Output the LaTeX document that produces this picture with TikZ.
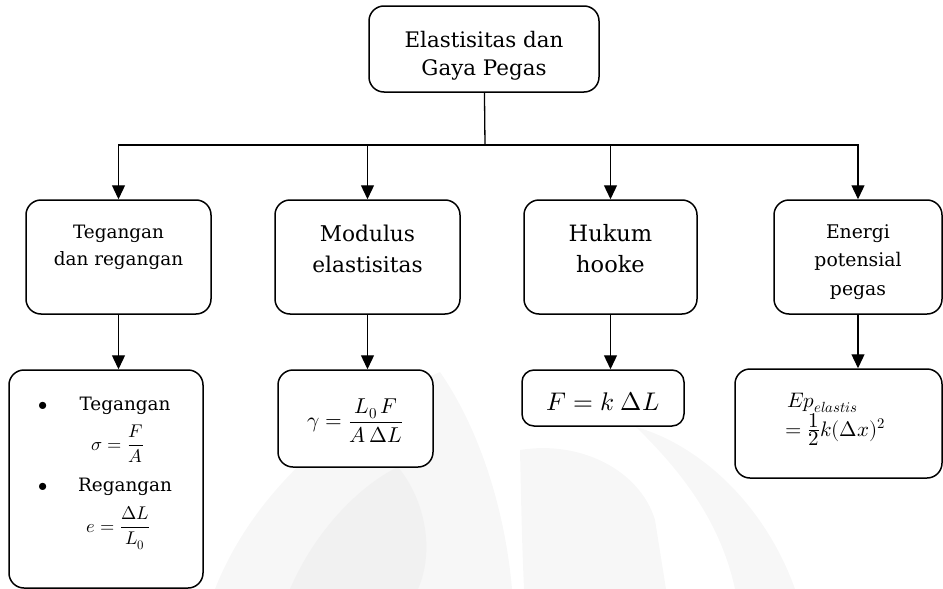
\documentclass[tikz,border=0pt]{standalone}
\usepackage{amsmath}
\usepackage{fontspec}
\usepackage{unicode-math}
\setmainfont{DejaVu Serif}
\setmathfont{Latin Modern Math}
\usetikzlibrary{arrows.meta}

\tikzset{
  box/.style={draw=black, line width=1.5pt, rounded corners=15pt, fill=white,
              rectangle, inner sep=0pt},
  lbl/.style={align=center, inner sep=0pt, anchor=north},
  item/.style={inner sep=0pt, anchor=base, font=\fontsize{18.4}{22}\selectfont},
  formula/.style={inner sep=0pt, anchor=base west, font=\fontsize{21}{24}\selectfont},
  link/.style={line width=1.3pt},
  arrowlink/.style={link, -{Triangle[width=13pt,length=14pt]}},
  wmark/.style={fill=gray!6, draw=none},
  wmarkdark/.style={fill=gray!11, draw=none}
}

\begin{document}
\begin{tikzpicture}[x=1pt, y=-1pt]
\useasboundingbox (0,0) rectangle (943,589);

% faint background emblem
\fill[wmark] (215,589) .. controls (250,500) and (330,420) .. (440,372)
  .. controls (480,430) and (505,510) .. (512,589) -- cycle;
\fill[wmarkdark] (290,589) .. controls (320,520) and (370,480) .. (398,467)
  .. controls (425,500) and (435,550) .. (418,589) -- cycle;
\fill[wmark] (520,450) .. controls (580,440) and (640,470) .. (655,520)
  -- (666,589) -- (524,589) .. controls (522,540) .. (520,450) -- cycle;
\fill[wmark] (636,427) .. controls (700,445) and (765,505) .. (795,589)
  -- (735,589) .. controls (720,520) and (680,470) .. (636,427) -- cycle;

% root
\node[box, minimum width=230pt, minimum height=86pt] (root) at (484,49) {};
\node[lbl, font=\fontsize{21.4}{28}\selectfont] (troot) at ([yshift=-26pt]root.north)
  {Elastisitas dan\\Gaya Pegas};

% second level
\node[box, minimum width=185pt, minimum height=114pt] (b1) at (118.5,257) {};
\node[box, minimum width=185pt, minimum height=114pt] (b2) at (367.5,257) {};
\node[box, minimum width=173pt, minimum height=114pt] (b3) at (610.5,257) {};
\node[box, minimum width=168pt, minimum height=114pt] (b4) at (858,257) {};

\node[lbl, font=\fontsize{18.4}{27}\selectfont] (t1) at ([yshift=-26pt]b1.north)
  {Tegangan\\dan regangan};
\node[lbl, font=\fontsize{21.7}{31}\selectfont] (t2) at ([yshift=-26pt]b2.north)
  {Modulus\\elastisitas};
\node[lbl, font=\fontsize{22.5}{31}\selectfont] (t3) at ([yshift=-25pt]b3.north)
  {Hukum\\hooke};
\node[lbl, font=\fontsize{18.8}{28.5}\selectfont] (t4) at ([yshift=-25pt]b4.north)
  {Energi\\potensial\\pegas};

% third level
\node[box, minimum width=194pt, minimum height=218pt] (c1) at (106,479) {};
\node[box, minimum width=155pt, minimum height=97pt] (c2) at (355.5,418.5) {};
\node[box, minimum width=162pt, minimum height=56pt, rounded corners=12pt] (c3) at (603,398) {};
\node[box, minimum width=207pt, minimum height=109pt] (c4) at (838.5,423.5) {};

% stress and strain list
\node[item] (dot1) at (43,410) {$\bullet$};
\node[item] (s1) at (125,410) {Tegangan};
\node[item] (s2) at (118,450) {$\sigma=\dfrac{F}{A}$};
\node[item] (dot2) at (43,491) {$\bullet$};
\node[item] (s3) at (125,491) {Regangan};
\node[item] (s4) at (118.5,532) {$e=\dfrac{\Delta L}{L_0}$};

\node[inner sep=0pt, font=\fontsize{21.5}{25}\selectfont] (f2) at ([yshift=-2pt]c2.center)
  {$\gamma=\dfrac{L_0\,F}{A\,\Delta L}$};
\node[inner sep=0pt, font=\fontsize{25.5}{30}\selectfont] (f3) at ([yshift=-4pt]c3.center)
  {$F=k\;\Delta L$};

% elastic potential energy
\node[formula] (e1) at (787,407) {$Ep_{elastis}$};
\node[formula] (e2) at (785,436)
  {$=\genfrac{}{}{}{1}{\textstyle 1}{\textstyle 2}k(\Delta x)^2$};

% connectors
\coordinate (bus) at (485,145);
\draw[link] (root) -- (bus);
\draw[arrowlink] (bus) -| (b1);
\draw[arrowlink] (bus) -| (b2);
\draw[arrowlink] (bus) -| (b3);
\draw[arrowlink] (bus) -| (b4);

\draw[arrowlink] (b1) -- (b1 |- c1.north);
\draw[arrowlink] (b2) -- (b2 |- c2.north);
\draw[arrowlink] (b3) -- (b3 |- c3.north);
\draw[arrowlink] (b4) -- (b4 |- c4.north);
\end{tikzpicture}
\end{document}
